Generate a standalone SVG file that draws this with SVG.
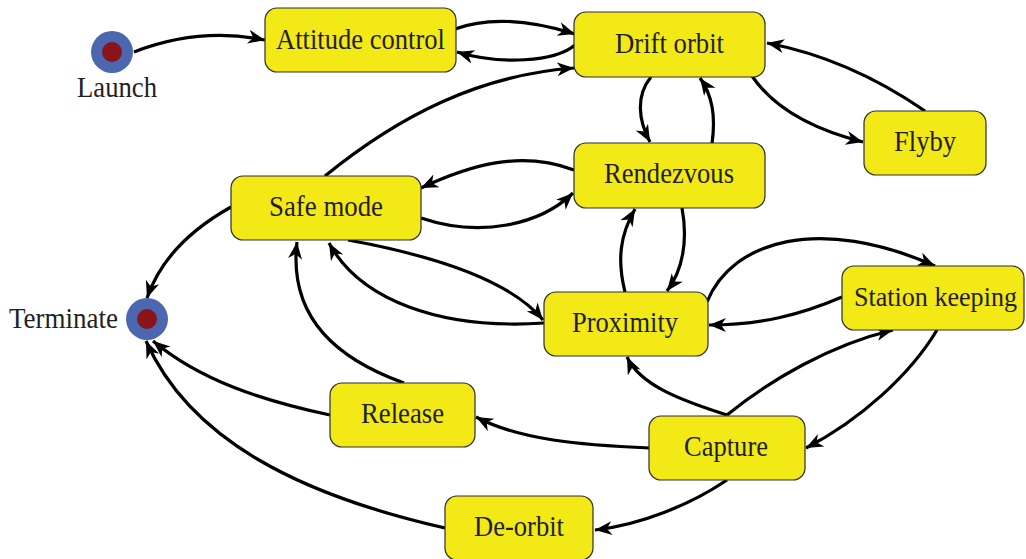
<svg xmlns="http://www.w3.org/2000/svg" width="1026" height="559" viewBox="0 0 1026 559">
<style>
.box{fill:#f2e917;stroke:#2e2e2e;stroke-width:1.2}
.lbl{font-family:"Liberation Serif","Times New Roman",serif;font-size:29px;fill:#231f20}
.c{fill:none;stroke:#000;stroke-width:3.2;marker-end:url(#ah)}
.outer{fill:#4a67b0}
.inner{fill:#8a1418}
</style>
<defs>
<marker id="ah" markerUnits="userSpaceOnUse" markerWidth="20" markerHeight="16" refX="17" refY="7" orient="auto" viewBox="0 0 20 16">
<path d="M0,0 L17,7 L0,14 L5,7 Z" fill="#000"/>
</marker>
</defs>
<rect width="1026" height="559" fill="#fff"/>
<g id="connectors">
<path class="c" d="M134,52 C170,38 215,30 265,40"/>
<path class="c" d="M455,29 C490,16 530,20 575,34"/>
<path class="c" d="M575,45 C555,62 500,65 457,52"/>
<path class="c" d="M325,176 C400,115 480,75 574,68"/>
<path class="c" d="M651,77 C636,95 638,120 650,142"/>
<path class="c" d="M712,144 C716,115 712,95 700,78"/>
<path class="c" d="M752,76 C775,110 815,130 863,142"/>
<path class="c" d="M925,111 C880,80 830,55 767,43"/>
<path class="c" d="M574,170 C520,150 470,165 421,188"/>
<path class="c" d="M421,218 C480,238 540,225 573,193"/>
<path class="c" d="M682,208 C688,240 683,270 667,291"/>
<path class="c" d="M625,292 C617,260 620,235 635,209"/>
<path class="c" d="M348,240 C430,255 510,280 543,320"/>
<path class="c" d="M544,323 C440,330 360,300 329,243"/>
<path class="c" d="M231,207 C190,230 160,260 147,298"/>
<path class="c" d="M404,383 C340,360 288,320 297,242"/>
<path class="c" d="M707,302 C732,240 820,215 935,266"/>
<path class="c" d="M842,297 C800,315 760,325 709,325"/>
<path class="c" d="M727,415 C770,380 830,345 893,330"/>
<path class="c" d="M937,330 C910,375 860,420 806,448"/>
<path class="c" d="M727,415 C680,400 640,385 627,357"/>
<path class="c" d="M650,448 C580,445 520,440 476,417"/>
<path class="c" d="M727,480 C690,505 640,525 595,530"/>
<path class="c" d="M330,415 C260,400 200,380 153,341"/>
<path class="c" d="M445,528 C300,495 190,440 146,341"/>
</g>
<g id="launch">
<circle class="outer" cx="112" cy="52" r="21"/>
<circle class="inner" cx="112" cy="52" r="10"/>
<text class="lbl" x="77" y="97" textLength="80" lengthAdjust="spacingAndGlyphs">Launch</text>
</g>
<g id="terminate">
<circle class="outer" cx="147" cy="319" r="21"/>
<circle class="inner" cx="147" cy="319" r="10"/>
<text class="lbl" x="9" y="328" textLength="109" lengthAdjust="spacingAndGlyphs">Terminate</text>
</g>
<g id="attitude">
<rect class="box" x="265" y="8" width="191" height="64" rx="12"/>
<text class="lbl" x="276" y="49" textLength="169" lengthAdjust="spacingAndGlyphs">Attitude control</text>
</g>
<g id="drift">
<rect class="box" x="574" y="12" width="191" height="65" rx="12"/>
<text class="lbl" x="615" y="53" textLength="109" lengthAdjust="spacingAndGlyphs">Drift orbit</text>
</g>
<g id="flyby">
<rect class="box" x="864" y="111" width="122" height="64" rx="12"/>
<text class="lbl" x="894" y="151" textLength="62" lengthAdjust="spacingAndGlyphs">Flyby</text>
</g>
<g id="rendezvous">
<rect class="box" x="574" y="143" width="191" height="65" rx="12"/>
<text class="lbl" x="604" y="183" textLength="130" lengthAdjust="spacingAndGlyphs">Rendezvous</text>
</g>
<g id="safemode">
<rect class="box" x="231" y="176" width="190" height="64" rx="12"/>
<text class="lbl" x="269" y="216" textLength="114" lengthAdjust="spacingAndGlyphs">Safe mode</text>
</g>
<g id="proximity">
<rect class="box" x="544" y="292" width="164" height="64" rx="12"/>
<text class="lbl" x="572" y="332" textLength="106" lengthAdjust="spacingAndGlyphs">Proximity</text>
</g>
<g id="stationkeeping">
<rect class="box" x="842" y="266" width="182" height="64" rx="12"/>
<text class="lbl" x="854" y="306" font-size="27" textLength="163" lengthAdjust="spacingAndGlyphs" style="font-size:27px">Station keeping</text>
</g>
<g id="release">
<rect class="box" x="330" y="383" width="145" height="64" rx="12"/>
<text class="lbl" x="361" y="423" textLength="83" lengthAdjust="spacingAndGlyphs">Release</text>
</g>
<g id="capture">
<rect class="box" x="649" y="416" width="156" height="64" rx="12"/>
<text class="lbl" x="684" y="456" textLength="84" lengthAdjust="spacingAndGlyphs">Capture</text>
</g>
<g id="deorbit">
<rect class="box" x="445" y="496" width="148" height="64" rx="12"/>
<text class="lbl" x="474" y="536" textLength="90" lengthAdjust="spacingAndGlyphs">De-orbit</text>
</g>
</svg>
